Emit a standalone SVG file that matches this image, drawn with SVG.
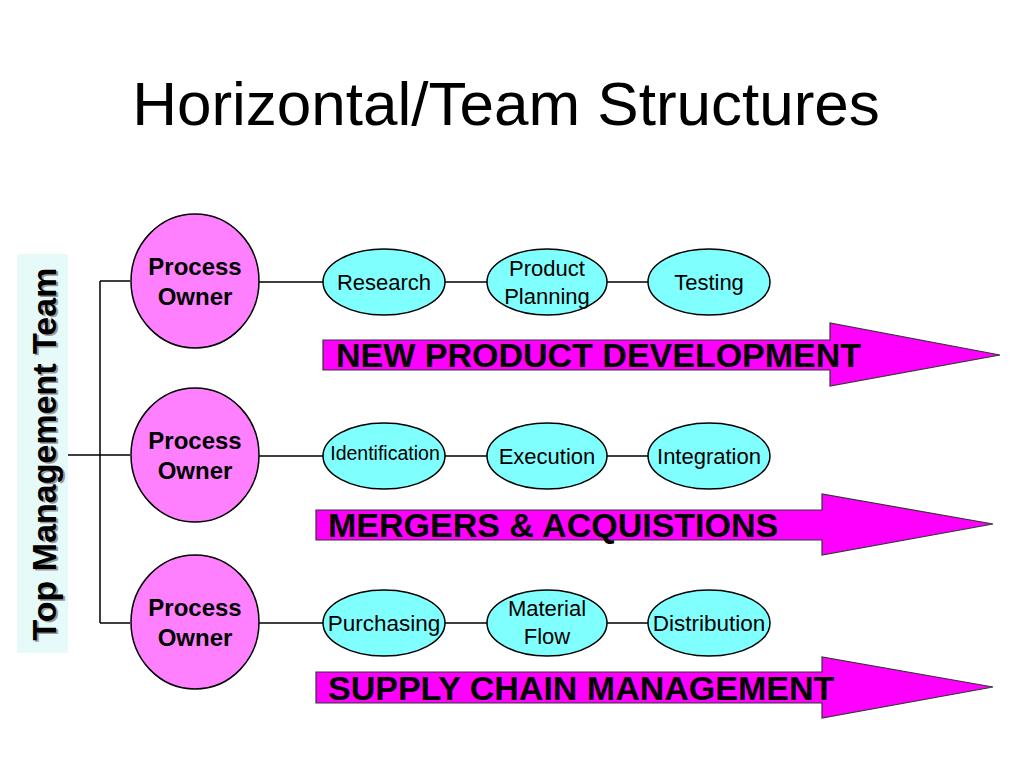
<svg xmlns="http://www.w3.org/2000/svg" width="1024" height="768" viewBox="0 0 1024 768">
<style>
.title{font-family:"Liberation Sans",Arial,sans-serif;font-size:62px;fill:#000}
.po{fill:#FF80FF;stroke:#000;stroke-width:1.5}
.pot{font-family:"Liberation Sans",Arial,sans-serif;font-size:24px;font-weight:bold;fill:#000;text-anchor:middle}
.st{fill:#80FFFF;stroke:#000;stroke-width:1.5}
.stt{font-family:"Liberation Sans",Arial,sans-serif;font-size:22px;fill:#000;text-anchor:middle}
.arr{fill:#FF00FF;stroke:#333;stroke-width:1.2}
.arrt{font-family:"Liberation Sans",Arial,sans-serif;font-size:34px;font-weight:bold;fill:#000}
.ln{stroke:#000;stroke-width:1.5;fill:none}
.tm{font-family:"Liberation Sans",Arial,sans-serif;font-size:34px;font-weight:bold;text-anchor:middle}
</style>
<rect width="1024" height="768" fill="#fff"/>
<text class="title" x="506" y="125" text-anchor="middle">Horizontal/Team Structures</text>

<g id="connectors">
<path class="ln" d="M68,455 H100 M100,281 V623 M100,281 H130 M100,455 H130 M100,623 H130"/>
<path class="ln" d="M259,282 H323 M445,282 H487 M607,282 H648"/>
<path class="ln" d="M259,456 H323 M445,456 H487 M607,456 H648"/>
<path class="ln" d="M259,623 H323 M445,623 H487 M607,623 H648"/>
</g>

<g id="top-management-team">
<rect x="17" y="254" width="51" height="399" fill="#E6FAFA"/>
<text class="tm" transform="translate(44,454) rotate(-90)" x="-1.5" y="13.5" fill="#9a9a9a">Top Management Team</text>
<text class="tm" transform="translate(44,454) rotate(-90)" x="0" y="12" fill="#000">Top Management Team</text>
</g>

<g id="process-owner-1">
<ellipse class="po" cx="195" cy="281" rx="64" ry="67"/>
<text class="pot" x="195" y="275">Process</text>
<text class="pot" x="195" y="305">Owner</text>
</g>
<g id="process-owner-2">
<ellipse class="po" cx="195" cy="455" rx="64" ry="67"/>
<text class="pot" x="195" y="449">Process</text>
<text class="pot" x="195" y="479">Owner</text>
</g>
<g id="process-owner-3">
<ellipse class="po" cx="195" cy="622" rx="64" ry="67"/>
<text class="pot" x="195" y="616">Process</text>
<text class="pot" x="195" y="646">Owner</text>
</g>

<g id="research">
<ellipse class="st" cx="384" cy="282" rx="61" ry="33"/>
<text class="stt" x="384" y="290">Research</text>
</g>
<g id="product-planning">
<ellipse class="st" cx="547" cy="282" rx="60" ry="33"/>
<text class="stt" x="547" y="276">Product</text>
<text class="stt" x="547" y="304">Planning</text>
</g>
<g id="testing">
<ellipse class="st" cx="709" cy="282" rx="61" ry="33"/>
<text class="stt" x="709" y="290">Testing</text>
</g>

<g id="identification">
<ellipse class="st" cx="384" cy="456" rx="61" ry="33"/>
<text class="stt" x="385" y="460" style="font-size:19.5px">Identification</text>
</g>
<g id="execution">
<ellipse class="st" cx="547" cy="456" rx="60" ry="33"/>
<text class="stt" x="547" y="464">Execution</text>
</g>
<g id="integration">
<ellipse class="st" cx="709" cy="456" rx="61" ry="33"/>
<text class="stt" x="709" y="464">Integration</text>
</g>

<g id="purchasing">
<ellipse class="st" cx="384" cy="623" rx="61" ry="33"/>
<text class="stt" x="384" y="631" style="font-size:22.5px">Purchasing</text>
</g>
<g id="material-flow">
<ellipse class="st" cx="547" cy="623" rx="60" ry="33"/>
<text class="stt" x="547" y="616">Material</text>
<text class="stt" x="547" y="644">Flow</text>
</g>
<g id="distribution">
<ellipse class="st" cx="709" cy="623" rx="61" ry="33"/>
<text class="stt" x="709" y="631" style="font-size:22.5px">Distribution</text>
</g>

<g id="arrow-npd">
<polygon class="arr" points="323,340 830,340 830,323 1000,355 830,386 830,370 323,370"/>
<text class="arrt" x="336" y="367">NEW PRODUCT DEVELOPMENT</text>
</g>
<g id="arrow-ma">
<polygon class="arr" points="316,510 822,510 822,494 993,524 822,555 822,540 316,540"/>
<text class="arrt" x="328" y="537">MERGERS &amp; ACQUISTIONS</text>
</g>
<g id="arrow-scm">
<polygon class="arr" points="316,672 822,672 822,657 993,687 822,718 822,703 316,703"/>
<text class="arrt" x="328" y="700">SUPPLY CHAIN MANAGEMENT</text>
</g>
</svg>
